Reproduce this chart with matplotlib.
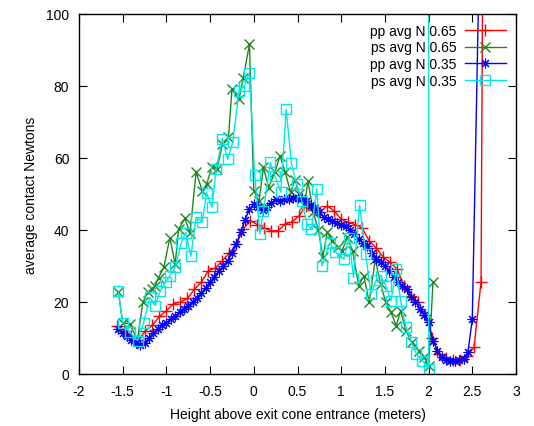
import numpy as np
import matplotlib
matplotlib.use('Agg')
import matplotlib.pyplot as plt

plt.rcParams['font.family'] = ['Liberation Sans', 'DejaVu Sans']

# pp avg N 0.65 (red)
pp65_x = np.round(np.arange(-1.56, 2.69, 0.08), 2)
pp65_y = [13.4, 12.0, 10.5, 9.5, 12.0, 13.5, 16.0, 17.6, 19.5, 20.0,
          21.0, 23.5, 25.5, 28.7, 29.4, 31.5, 33.5, 36.0, 40.3, 42.6,
          41.5, 40.5, 39.8, 39.8, 41.7, 42.3, 44.0, 46.8, 45.5, 45.0,
          46.7, 45.3, 43.0, 42.1, 41.5, 40.5, 37.0, 35.0, 32.5, 31.0,
          29.1, 24.5, 21.7, 20.0, 16.5, 10.0, 5.5, 4.5, 4.0, 4.0,
          5.0, 7.4, 25.6, 400]

# ps avg N 0.65 (green)
ps65_x = [-1.55, -1.50, -1.42, -1.33, -1.27, -1.21, -1.17, -1.13, -1.09, -1.03,
          -0.96, -0.90, -0.86, -0.79, -0.73, -0.66, -0.59, -0.54, -0.48, -0.42,
          -0.36, -0.29, -0.25, -0.17, -0.12, -0.05, 0.00, 0.06, 0.11, 0.17,
          0.24, 0.30, 0.36, 0.42, 0.47, 0.52, 0.58, 0.62, 0.68, 0.74,
          0.79, 0.84, 0.90, 0.96, 1.01, 1.07, 1.13, 1.20, 1.26, 1.32,
          1.39, 1.45, 1.51, 1.57, 1.63, 1.68, 1.74, 1.81, 1.89, 1.95,
          2.00, 2.05]
ps65_y = [22.7, 14.3, 13.9, 9.5, 19.9, 22.7, 23.6, 24.5, 26.8, 29.6,
          37.9, 30.5, 40.2, 43.2, 39.3, 56.1, 50.9, 52.7, 57.4, 57.0,
          63.8, 65.7, 79.1, 76.3, 82.3, 91.6, 50.9, 48.0, 57.4, 51.8,
          56.0, 60.6, 56.0, 50.5, 54.0, 50.0, 47.0, 53.7, 45.0, 40.0,
          32.4, 39.5, 37.0, 35.2, 34.2, 38.0, 34.2, 24.5, 27.3, 19.9,
          31.9, 25.0, 19.9, 17.1, 13.4, 17.6, 12.0, 8.8, 6.5, 4.6,
          2.3, 25.5]

# pp avg N 0.35 (blue)
pp35_x = list(np.round(np.arange(-1.55, 2.51, 0.05), 2)) + [2.6]
pp35_y = [12.5, 11.5, 10.5, 9.5, 8.5, 8.0, 8.5, 10.0, 11.5, 12.5,
          13.5, 14.3, 15.2, 16.2, 17.1, 18.0, 19.0, 20.0, 21.2, 22.5,
          24.0, 25.5, 27.0, 28.5, 30.0, 31.5, 33.5, 36.0, 39.5, 42.8,
          45.8, 47.2, 46.5, 45.5, 46.5, 47.5, 48.5, 48.0, 48.5, 48.5,
          49.0, 49.0, 49.0, 48.0, 47.0, 46.0, 45.0, 43.5, 43.0, 42.5,
          42.0, 41.5, 41.0, 40.0, 39.0, 37.5, 36.5, 35.5, 33.5, 32.0,
          31.0, 30.0, 28.5, 27.0, 25.5, 24.5, 23.5, 21.5, 20.0, 18.0,
          16.5, 14.4, 9.3, 6.5, 4.8, 4.0, 3.7, 3.7, 3.8, 4.2,
          6.0, 15.3, 140]

# ps avg N 0.35 (cyan)
ps35_x = [-1.55, -1.50, -1.42, -1.33, -1.26, -1.19, -1.13, -1.07, -1.01, -0.96,
          -0.90, -0.83, -0.78, -0.72, -0.66, -0.59, -0.54, -0.48, -0.43, -0.36,
          -0.30, -0.24, -0.17, -0.11, -0.05, 0.01, 0.07, 0.11, 0.19, 0.24,
          0.31, 0.37, 0.43, 0.49, 0.55, 0.61, 0.66, 0.72, 0.78, 0.87,
          0.93, 1.03, 1.09, 1.14, 1.21, 1.28, 1.34, 1.40, 1.45, 1.51,
          1.57, 1.63, 1.68, 1.74, 1.80, 1.86, 1.93, 2.00, 2.001]
ps35_y = [23.0, 14.3, 11.6, 9.3, 14.3, 21.3, 19.0, 23.1, 25.5, 27.3,
          29.6, 36.4, 39.3, 32.7, 43.5, 42.3, 50.4, 46.3, 56.9, 65.4,
          59.7, 64.5, 78.6, 79.9, 83.7, 55.3, 38.9, 45.3, 58.8, 55.0,
          50.5, 73.5, 58.6, 52.7, 48.0, 41.6, 40.2, 51.4, 30.0, 36.5,
          34.0, 31.9, 37.9, 26.8, 46.9, 33.3, 22.2, 26.0, 27.3, 24.5,
          20.3, 29.1, 20.3, 13.0, 9.0, 5.6, 3.7, 1.4, 5000]

fig = plt.figure(figsize=(5.34, 4.27), dpi=100)
ax = fig.add_axes([79/534, 1-375/427, (516-79)/534, (375-15)/427])

ax.plot(pp65_x, pp65_y, color='#ff0000', lw=1, marker='+', ms=8, mew=1, label='pp avg N 0.65')
ax.plot(ps65_x, ps65_y, color='#1f871f', lw=1, marker='x', ms=7, mew=1, label='ps avg N 0.65')
ax.plot(pp35_x, pp35_y, color='#0000ff', lw=1, marker=(8, 2, 0), ms=7, mew=0.8, label='pp avg N 0.35')
ax.plot(ps35_x, ps35_y, color='#00e8e8', lw=1, marker='s', ms=7, mew=1, mfc='none', label='ps avg N 0.35')

ax.set_xlim(-2, 3)
ax.set_ylim(0, 100)
ax.set_xticks(np.arange(-2, 3.01, 0.5))
ax.set_xticklabels(['-2', '-1.5', '-1', '-0.5', '0', '0.5', '1', '1.5', '2', '2.5', '3'])
ax.set_yticks(np.arange(0, 101, 20))
ax.tick_params(direction='in', top=True, right=True, length=6, labelsize=10, pad=7)
for s in ax.spines.values():
    s.set_linewidth(1)

ax.set_xlabel('Height above exit cone entrance (meters)', fontsize=10, labelpad=7)
ax.set_ylabel('average contact Newtons', fontsize=10, labelpad=6)

leg = ax.legend(loc='upper right', frameon=False, markerfirst=False, fontsize=10,
                handlelength=3.0, borderaxespad=0.3, labelspacing=0.2, handletextpad=0.6)
for t in leg.get_texts():
    t.set_ha('right')

fig.savefig('out.png', dpi=100)
